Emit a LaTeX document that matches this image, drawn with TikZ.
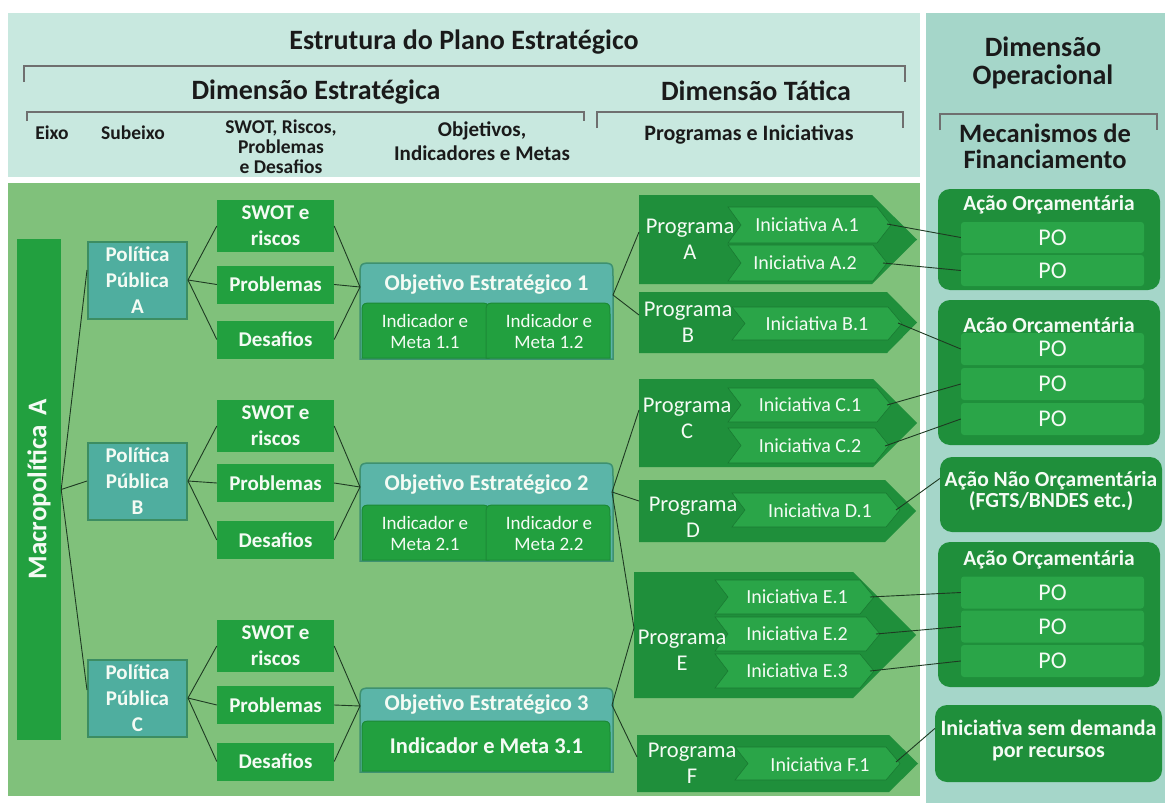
\documentclass[tikz,border=0pt]{standalone}
\usepackage{fontspec}
\setmainfont{Carlito}
\usetikzlibrary{calc}
\definecolor{hdrbg}{HTML}{C8E8DF}
\definecolor{opbg}{HTML}{A5D6C9}
\definecolor{panelg}{HTML}{80C17B}
\definecolor{boxg}{HTML}{22A03F}
\definecolor{darkg}{HTML}{1F8F3B}
\definecolor{chevg}{HTML}{2AA548}
\definecolor{polteal}{HTML}{4FAE9F}
\definecolor{polbord}{HTML}{3C8D62}
\definecolor{objteal}{HTML}{5BB5A8}
\definecolor{objbord}{HTML}{3E9170}
\definecolor{inbord}{HTML}{1C8A36}
\definecolor{linecol}{HTML}{1E3A22}
\definecolor{brkcol}{HTML}{6F6F6F}
\definecolor{txtd}{HTML}{1A1A1A}
\definecolor{txtw}{HTML}{F4FBF4}
\newcommand{\myfs}[2]{\fontsize{#1}{#2}\selectfont}
\newcommand{\mychev}[4]{\path[chev] (#1,#2) -- (#3,#2) -- ({#3+14},{(#2+#4)/2}) -- (#3,#4) -- (#1,#4) -- ({#1+13},{(#2+#4)/2}) -- cycle;}
\newcommand{\myprog}[5]{\path[prog] (#1,#2) -- (#3,#2) -- (#4,{(#2+#5)/2}) -- (#3,#5) -- (#1,#5) -- cycle;}
\tikzset{
  hdrA/.style={text=txtd, font=\bfseries\myfs{28}{28}, align=center, inner sep=0pt},
  hdrB/.style={text=txtd, font=\bfseries\myfs{19.5}{20}, align=center, inner sep=0pt},
  brk/.style={draw=brkcol, line width=1.3pt},
  gbox/.style={fill=boxg, text=txtw, font=\bfseries\myfs{21}{26}, align=center, inner sep=0pt, minimum width=117pt},
  polbox/.style={fill=polteal, draw=polbord, line width=2pt, text=txtw, font=\bfseries\myfs{21}{26}, align=center, inner sep=0pt, minimum width=99pt, minimum height=77pt},
  objout/.style={fill=objteal, draw=objbord, line width=1.5pt},
  objin/.style={fill=boxg, draw=inbord, line width=1pt},
  objtitle/.style={text=txtw, font=\bfseries\myfs{22.5}{24}, inner sep=0pt},
  indtxt/.style={text=txtw, font=\myfs{19}{21}, align=center, inner sep=0pt},
  prog/.style={fill=darkg},
  chev/.style={fill=chevg, draw=darkg!85!black, line width=0.6pt},
  progtxt/.style={text=txtw, font=\myfs{22.5}{26}, align=center, inner sep=0pt},
  initxt/.style={text=txtw, font=\myfs{20}{22}, inner sep=0pt},
  grp/.style={fill=darkg, rounded corners=12pt, inner sep=0pt},
  grptxt/.style={text=txtw, font=\bfseries\myfs{21.5}{21}, align=center, inner sep=0pt},
  po/.style={fill=chevg, rounded corners=3pt, minimum width=183pt, minimum height=31pt, inner sep=0pt, text=txtw, font=\myfs{24}{24}},
  conn/.style={draw=linecol, line width=0.9pt},
}
\begin{document}
\begin{tikzpicture}[x=1pt,y=-1pt]
\useasboundingbox (0,0) rectangle (1165,803);
\fill[white] (0,0) rectangle (1165,803);
\fill[hdrbg] (8,13) rectangle (920,177);
\fill[opbg] (926,13) rectangle (1165,803);
\fill[panelg] (8,183) rectangle (920,796);

% header
\draw[brk] (24,82) -- (24,66) -- (905,66) -- (905,82);
\draw[brk] (27,121) -- (27,112) -- (584,112) -- (584,121);
\draw[brk] (597,128) -- (597,112) -- (903,112) -- (903,128);
\draw[brk] (940,130) -- (940,114) -- (1157,114) -- (1157,130);
\node[hdrA] (title) at (464,42) {Estrutura do Plano Estratégico};
\node[hdrA] (dimE) at (316,92) {Dimensão Estratégica};
\node[hdrA] (dimT) at (756,91) {Dimensão Tática};
\node[hdrA] (dimO) at (1043,63) {Dimensão\\Operacional};
\node[hdrB] (eixo) at (52,133) {Eixo};
\node[hdrB] (subx) at (133,133) {Subeixo};
\node[hdrB] (swl) at (281,147) {SWOT, Riscos,\\Problemas\\e Desafios};
\node[hdrB, font=\bfseries\myfs{21}{24}] (objl) at (482,141) {Objetivos,\\Indicadores e Metas};
\node[hdrB, font=\bfseries\myfs{22}{24}] (prl) at (749,135) {Programas e Iniciativas};
\node[hdrB, font=\bfseries\myfs{26.5}{26}] (mec) at (1045,146) {Mecanismos de\\Financiamento};

% eixo
\node[fill=boxg, minimum width=44pt, minimum height=501pt, inner sep=0pt] (bar) at (39,489.5) {};
\node[rotate=90, text=txtw, font=\bfseries\myfs{27}{28}, inner sep=0pt] (bartxt) at (bar.center) {Macropolítica\hspace{9pt}A};

% politicas
\node[polbox] (polA) at (137.5,280) {Política\\Pública\\A};
\node[polbox] (polB) at (137.5,481) {Política\\Pública\\B};
\node[polbox] (polC) at (137.5,698) {Política\\Pública\\C};

% swot boxes
\node[gbox, minimum height=52pt] (swA) at (275.5,226) {SWOT e\\riscos};
\node[gbox, minimum height=38pt] (prA) at (275.5,284.5) {Problemas};
\node[gbox, minimum height=38pt] (deA) at (275.5,339.5) {Desafios};
\node[gbox, minimum height=52pt] (swB) at (275.5,426) {SWOT e\\riscos};
\node[gbox, minimum height=38pt] (prB) at (275.5,483) {Problemas};
\node[gbox, minimum height=38pt] (deB) at (275.5,540) {Desafios};
\node[gbox, minimum height=52pt] (swC) at (275.5,646) {SWOT e\\riscos};
\node[gbox, minimum height=38pt] (prC) at (275.5,705) {Problemas};
\node[gbox, minimum height=38pt] (deC) at (275.5,761.5) {Desafios};

% objetivos
\path[objout] (360,359) -- (360,277) .. controls (360,263) .. (374,263) -- (599,263) .. controls (613,263) .. (613,277) -- (613,359) -- cycle;
\path[objin] (362,358) -- (362,315) .. controls (362,303) .. (374,303) -- (477,303) .. controls (489,303) .. (489,315) -- (489,358) -- cycle;
\path[objin] (486,358) -- (486,315) .. controls (486,303) .. (498,303) -- (598,303) .. controls (610,303) .. (610,315) -- (610,358) -- cycle;
\node[objtitle] (ob1) at (486.5,284) {Objetivo Estratégico 1};
\node[indtxt] (in11) at (425,331) {Indicador e\\Meta 1.1};
\node[indtxt] (in12) at (549,331) {Indicador e\\Meta 1.2};
\coordinate (ob1w) at (360,287);
\coordinate (ob1e) at (613,295);

\path[objout] (360,561) -- (360,477) .. controls (360,463) .. (374,463) -- (599,463) .. controls (613,463) .. (613,477) -- (613,561) -- cycle;
\path[objin] (362,560) -- (362,517) .. controls (362,505) .. (374,505) -- (477,505) .. controls (489,505) .. (489,517) -- (489,560) -- cycle;
\path[objin] (486,560) -- (486,517) .. controls (486,505) .. (498,505) -- (598,505) .. controls (610,505) .. (610,517) -- (610,560) -- cycle;
\node[objtitle] (ob2) at (486.5,484) {Objetivo Estratégico 2};
\node[indtxt] (in21) at (425,533) {Indicador e\\Meta 2.1};
\node[indtxt] (in22) at (549,533) {Indicador e\\Meta 2.2};
\coordinate (ob2w) at (360,487);
\coordinate (ob2e) at (612,492);

\path[objout] (360,772) -- (360,702) .. controls (360,688) .. (374,688) -- (599,688) .. controls (613,688) .. (613,702) -- (613,772) -- cycle;
\path[objin] (362,771) -- (362,733) .. controls (362,721) .. (374,721) -- (598,721) .. controls (610,721) .. (610,733) -- (610,771) -- cycle;
\node[objtitle] (ob3) at (486.5,704.5) {Objetivo Estratégico 3};
\node[objtitle] (in31) at (486.5,746) {Indicador e Meta 3.1};
\coordinate (ob3w) at (360,706);
\coordinate (ob3e) at (612,705);

% programas
\myprog{639}{195}{872}{917}{284}
\mychev{728}{207}{877}{243}
\mychev{728}{245}{873}{281}
\node[progtxt] (pgA) at (690,239) {Programa\\A};
\node[initxt] (iA1) at (807,225) {Iniciativa A.1};
\node[initxt] (iA2) at (805,263) {Iniciativa A.2};
\coordinate (pAw) at (639,232);
\coordinate (iA1e) at (887,224);
\coordinate (iA2e) at (883,263);

\myprog{639}{292}{887}{917}{353}
\mychev{732}{307}{888}{340}
\node[progtxt] (pgB) at (688,322) {Programa\\B};
\node[initxt] (iB1) at (817,324) {Iniciativa B.1};
\coordinate (pBw) at (639,315);
\coordinate (iB1e) at (898,323);

\myprog{639}{379}{873}{917}{467}
\mychev{728}{388}{877}{422}
\mychev{728}{428}{875}{463}
\node[progtxt] (pgC) at (687,418) {Programa\\C};
\node[initxt] (iC1) at (810,405) {Iniciativa C.1};
\node[initxt] (iC2) at (810,446) {Iniciativa C.2};
\coordinate (pCw) at (639,410);
\coordinate (iC1e) at (887,405);
\coordinate (iC2e) at (885,446);

\myprog{639}{480}{885}{916}{542}
\mychev{732}{493}{886}{527}
\node[progtxt] (pgD) at (693,517) {Programa\\D};
\node[initxt] (iD1) at (820,511) {Iniciativa D.1};
\coordinate (pDw) at (639,501);
\coordinate (iD1e) at (896,510);

\myprog{634}{572}{853}{916}{698}
\mychev{715}{580}{860}{614}
\mychev{715}{617}{866}{651}
\mychev{715}{654}{860}{688}
\node[progtxt] (pgE) at (682,650) {Programa\\E};
\node[initxt] (iE1) at (797,597) {Iniciativa E.1};
\node[initxt] (iE2) at (797,634) {Iniciativa E.2};
\node[initxt] (iE3) at (797,671) {Iniciativa E.3};
\coordinate (pEw) at (634,628);
\coordinate (iE1e) at (870,597);
\coordinate (iE2e) at (876,634);
\coordinate (iE3e) at (870,671);

\myprog{637}{735}{889}{918}{792}
\mychev{735}{747}{886}{780}
\node[progtxt] (pgF) at (692,763) {Programa\\F};
\node[initxt] (iF1) at (820,765) {Iniciativa F.1};
\coordinate (pFw) at (637,757);
\coordinate (iF1e) at (896,762);

% operacional
\node[grp, minimum width=222pt, minimum height=101pt] (g1) at (1049,239.5) {};
\node[grptxt] (g1t) at (1049,205) {Ação Orçamentária};
\node[po] (po11) at (1052.5,237.5) {PO};
\node[po] (po12) at (1052.5,270.5) {PO};

\node[grp, minimum width=222pt, minimum height=145pt] (g2) at (1049,372.5) {};
\node[grptxt] (g2t) at (1049,327) {Ação Orçamentária};
\node[po, minimum height=32pt] (po21) at (1052.5,349) {PO};
\node[po, minimum height=32pt] (po22) at (1052.5,384) {PO};
\node[po, minimum height=32pt] (po23) at (1052.5,419) {PO};

\node[grp, minimum width=222pt, minimum height=75pt] (g3) at (1051,494.5) {};
\node[grptxt] (g3t) at (1051,491) {Ação Não Orçamentária\\(FGTS/BNDES etc.)};

\node[grp, minimum width=222pt, minimum height=145pt] (g4) at (1049,614.5) {};
\node[grptxt] (g4t) at (1049,560) {Ação Orçamentária};
\node[po, minimum height=32pt] (po41) at (1052.5,592.5) {PO};
\node[po, minimum height=32pt] (po42) at (1052.5,626.5) {PO};
\node[po, minimum height=32pt] (po43) at (1052.5,661) {PO};

\node[grp, minimum width=227pt, minimum height=77pt] (g5) at (1048.5,743.5) {};
\node[grptxt, font=\bfseries\myfs{22}{22}] (g5t) at (1048.5,740) {Iniciativa sem demanda\\por recursos};

% connectors
\draw[conn] (bar.east) -- ([yshift=10pt]polA.west);
\draw[conn] (bar.east) -- (polB.west);
\draw[conn] (bar.east) -- ([yshift=8pt]polC.west);
\foreach \g in {A,B,C}{
  \draw[conn] (pol\g.east) -- (sw\g.west);
  \draw[conn] (pol\g.east) -- (pr\g.west);
  \draw[conn] (pol\g.east) -- (de\g.west);
}
\foreach \g/\o in {A/ob1w,B/ob2w,C/ob3w}{
  \draw[conn] (sw\g.east) -- (\o);
  \draw[conn] (pr\g.east) -- (\o);
  \draw[conn] (de\g.east) -- (\o);
}
\draw[conn] (ob1e) -- (pAw);
\draw[conn] (ob1e) -- (pBw);
\draw[conn] (ob2e) -- (pCw);
\draw[conn] (ob2e) -- (pDw);
\draw[conn] (ob2e) -- (pEw);
\draw[conn] (ob3e) -- (pEw);
\draw[conn] (ob3e) -- (pFw);
\draw[conn] (iA1e) -- (po11.west);
\draw[conn] (iA2e) -- (po12.west);
\draw[conn] (iB1e) -- (po21.west);
\draw[conn] (iC1e) -- (po22.west);
\draw[conn] (iC2e) -- (po23.west);
\draw[conn] (iD1e) -- ([yshift=16pt]g3.west);
\draw[conn] (iE1e) -- (po41.west);
\draw[conn] (iE2e) -- (po42.west);
\draw[conn] (iE3e) -- (po43.west);
\draw[conn] (iF1e) -- ([yshift=15pt]g5.west);
\end{tikzpicture}
\end{document}
